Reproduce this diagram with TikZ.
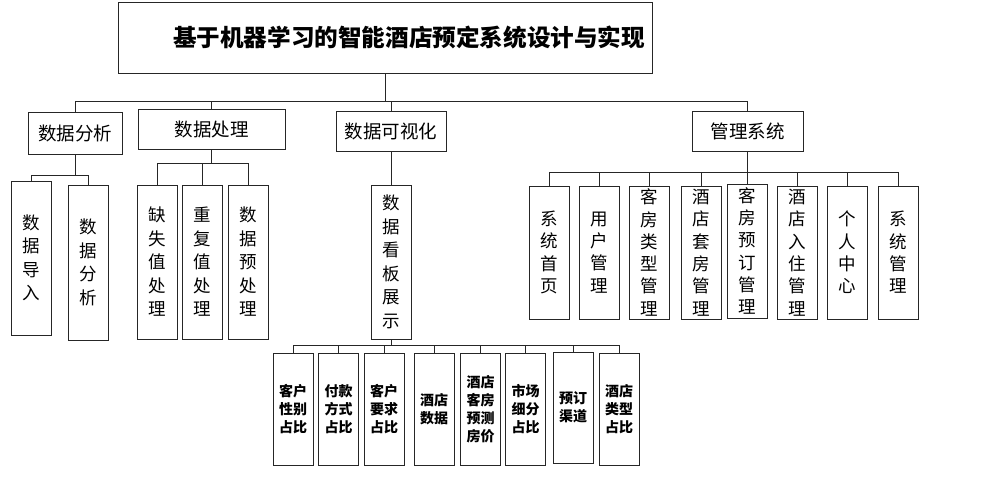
\documentclass[tikz,border=0pt]{standalone}
\usepackage{fontspec}
\newfontfamily\cjk{Noto Sans CJK SC}
\begin{document}
\begin{tikzpicture}[x=1pt,y=-1pt]
\tikzset{
  box/.style={draw=black!85, line width=0.9pt, fill=white, inner sep=0pt, align=center, font=\cjk},
  titlebox/.style={box, font=\cjk\bfseries\fontsize{23.6}{23.6}\selectfont},
  lvl/.style={box, font=\cjk\fontsize{18.5}{19}\selectfont},
  vbox/.style={box, minimum width=40pt, font=\cjk\fontsize{17.5}{23.5}\selectfont},
  mbox/.style={box, minimum width=40pt, font=\cjk\fontsize{17.5}{22.3}\selectfont},
  sbox/.style={box, minimum width=40pt, font=\cjk\bfseries\fontsize{14}{18}\selectfont},
  conn/.style={draw=black!85, line width=0.9pt},
}
\useasboundingbox (0,0) rectangle (995,477);
% title
\node[titlebox, minimum width=534pt, minimum height=71pt] (T) at (385,37.5) {\hspace*{48pt}基于机器学习的智能酒店预定系统设计与实现};
% level 1
\node[lvl, minimum width=94pt, minimum height=42pt] (A) at (75,133) {数据分析};
\node[lvl, minimum width=147pt, minimum height=40pt] (B) at (211.5,129) {数据处理};
\node[lvl, minimum width=110pt, minimum height=40pt] (C) at (391,131) {数据可视化};
\node[lvl, minimum width=111pt, minimum height=40pt] (D) at (747.5,131) {管理系统};
% A children
\node[vbox, minimum height=154pt] (a1) at (31,258) {数\\据\\导\\入};
\node[vbox, minimum height=155pt] (a2) at (88,262.5) {数\\据\\分\\析};
% B children
\node[vbox, minimum height=154pt] (b1) at (157,262) {缺\\失\\值\\处\\理};
\node[vbox, minimum height=154pt] (b2) at (202.5,262) {重\\复\\值\\处\\理};
\node[vbox, minimum height=154pt] (b3) at (248,262) {数\\据\\预\\处\\理};
% C child
\node[vbox, minimum height=154pt] (c1) at (391,262) {数\\据\\看\\板\\展\\示};
% C1 children
\node[sbox, minimum height=112pt] (d1) at (293,409) {客户\\性别\\占比};
\node[sbox, minimum height=112pt] (d2) at (338.5,409) {付款\\方式\\占比};
\node[sbox, minimum height=112pt] (d3) at (384,409) {客户\\要求\\占比};
\node[sbox, minimum height=112pt] (d4) at (434,409) {酒店\\数据};
\node[sbox, minimum height=112pt] (d5) at (480.5,409) {酒店\\客房\\预测\\房价};
\node[sbox, minimum height=112pt] (d6) at (525.5,409) {市场\\细分\\占比};
\node[sbox, minimum height=111pt] (d7) at (573,407.5) {预订\\渠道};
\node[sbox, minimum height=112pt] (d8) at (619,409) {酒店\\类型\\占比};
% D children
\node[mbox, minimum height=133pt] (m1) at (549,252.5) {系\\统\\首\\页};
\node[mbox, minimum height=133pt] (m2) at (599,252.5) {用\\户\\管\\理};
\node[mbox, minimum height=133pt] (m3) at (649,252.5) {客\\房\\类\\型\\管\\理};
\node[mbox, minimum height=133pt] (m4) at (701.5,252.5) {酒\\店\\套\\房\\管\\理};
\node[mbox, minimum height=134pt] (m5) at (747,251) {客\\房\\预\\订\\管\\理};
\node[mbox, minimum height=133pt] (m6) at (797,252.5) {酒\\店\\入\\住\\管\\理};
\node[mbox, minimum height=133pt] (m7) at (847,252.5) {个\\人\\中\\心};
\node[mbox, minimum height=133pt] (m8) at (898.5,252.5) {系\\统\\管\\理};
% bar levels
\coordinate (y0) at (0,101);
\coordinate (yA) at (0,175);
\coordinate (yB) at (0,163);
\coordinate (yC) at (0,345);
\coordinate (yD) at (0,172);
\foreach \c in {A,B,C,D} \draw[conn] (T.south) -- (T.south |- y0) -| (\c.north);
\foreach \c in {a1,a2} \draw[conn] (A.south) -- (A.south |- yA) -| (\c.north);
\foreach \c in {b1,b2,b3} \draw[conn] (B.south) -- (B.south |- yB) -| (\c.north);
\draw[conn] (C.south) -- (c1.north);
\foreach \c in {d1,d2,d3,d4,d5,d6,d7,d8} \draw[conn] (c1.south) -- (c1.south |- yC) -| (\c.north);
\foreach \c in {m1,m2,m3,m4,m5,m6,m7,m8} \draw[conn] (D.south) -- (D.south |- yD) -| (\c.north);
\end{tikzpicture}
\end{document}
